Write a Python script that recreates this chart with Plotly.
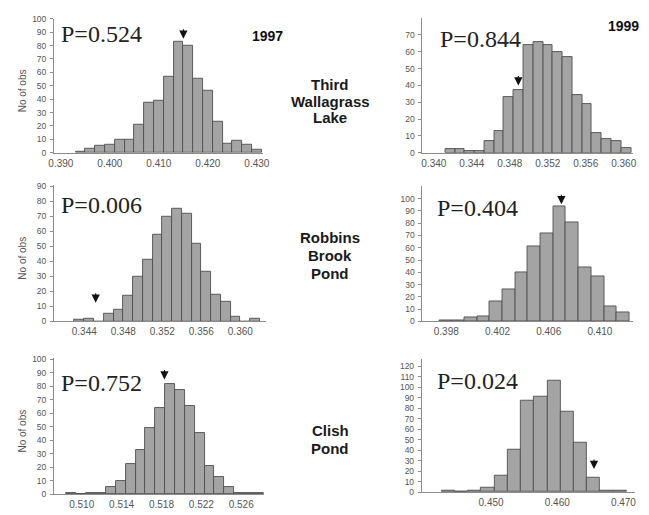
import numpy as np
import plotly.graph_objects as go

W, H = 649, 515

# ---------------- data ----------------
# 1997 Third Wallagrass Lake
twl97_counts = [1, 3, 5, 6, 10, 10, 21, 37, 39, 57, 83, 80, 55, 46, 23, 7, 9, 6, 2]
twl97_bin_start, twl97_bin_width = 0.393, 0.002
twl97_obs = 0.415
# 1999 Third Wallagrass Lake
twl99_counts = [2, 2, 1, 1, 7, 13, 33, 37, 64, 66, 64, 60, 57, 34, 29, 12, 8, 7, 3]
twl99_bin_start, twl99_bin_width = 0.3412, 0.00103
twl99_obs = 0.3489
# 1997 Robbins Brook Pond
rbp97_counts = [1, 2, 0, 5, 8, 17, 30, 41, 58, 70, 75, 72, 52, 33, 18, 13, 3, 0, 2]
rbp97_bin_start, rbp97_bin_width = 0.343, 0.001
rbp97_obs = 0.34517
# 1999 Robbins Brook Pond
rbp99_counts = [1, 1, 3, 4, 16, 26, 40, 61, 72, 94, 81, 44, 37, 12, 7]
rbp99_bin_start, rbp99_bin_width = 0.39745, 0.00099
rbp99_obs = 0.40699
# 1997 Clish Pond
cp97_counts = [1, 0, 1, 1, 5, 10, 22, 33, 49, 64, 82, 77, 65, 45, 21, 13, 5, 1, 1, 1]
cp97_bin_start, cp97_bin_width = 0.50847, 0.00099
cp97_obs = 0.5183
# 1999 Clish Pond
cp99_counts = [1, 0, 1, 4, 16, 40, 87, 91, 106, 77, 47, 14, 1, 1]
cp99_bin_start, cp99_bin_width = 0.4425, 0.002
cp99_obs = 0.46556

p_values = ["P=0.524", "P=0.844", "P=0.006", "P=0.404", "P=0.752", "P=0.024"]
years = ["1997", "1999"]
lakes = [["Third", "Wallagrass", "Lake"], ["Robbins", "Brook", "Pond"], ["Clish", "Pond"]]

x_ticks = [
    [0.390, 0.400, 0.410, 0.420, 0.430],
    [0.340, 0.344, 0.348, 0.352, 0.356, 0.360],
    [0.344, 0.348, 0.352, 0.356, 0.360],
    [0.398, 0.402, 0.406, 0.410],
    [0.510, 0.514, 0.518, 0.522, 0.526],
    [0.450, 0.460, 0.470],
]
y_ticks = [list(range(0, 101, 10)), list(range(0, 71, 10)), list(range(0, 91, 10)),
           list(range(0, 101, 10)), list(range(0, 101, 10)), list(range(0, 121, 10))]

# ---------------- layout geometry (pixels) ----------------
panels = [
    dict(counts=twl97_counts, start=twl97_bin_start, width=twl97_bin_width, obs=twl97_obs, arrow_y=85,
         xr=[0.3886, 0.4312], yr=[0, 100], px=[49, 262], py=[14, 150.7], ylab=True, plab=(54, 30)),
    dict(counts=twl99_counts, start=twl99_bin_start, width=twl99_bin_width, obs=twl99_obs, arrow_y=40,
         xr=[0.3388, 0.3610], yr=[0, 80], px=[425, 640], py=[13.3, 150.7], ylab=False, plab=(441, 35)),
    dict(counts=rbp97_counts, start=rbp97_bin_start, width=rbp97_bin_width, obs=rbp97_obs, arrow_y=12.5,
         xr=[0.3409, 0.3626], yr=[0, 91], px=[49, 265], py=[183.3, 322.7], ylab=True, plab=(54, 204)),
    dict(counts=rbp99_counts, start=rbp99_bin_start, width=rbp99_bin_width, obs=rbp99_obs, arrow_y=95.5,
         xr=[0.39614, 0.4126], yr=[0, 110], px=[425, 640], py=[185, 322.7], ylab=False, plab=(438, 207)),
    dict(counts=cp97_counts, start=cp97_bin_start, width=cp97_bin_width, obs=cp97_obs, arrow_y=85,
         xr=[0.50722, 0.52826], yr=[0, 101], px=[49, 263], py=[360, 498.7], ylab=True, plab=(54, 385)),
    dict(counts=cp99_counts, start=cp99_bin_start, width=cp99_bin_width, obs=cp99_obs, arrow_y=22,
         xr=[0.43953, 0.47173], yr=[0, 127], px=[424.3, 641.7], py=[360.7, 496.7], ylab=False, plab=(438, 383)),
]

def fx(px):
    return px / W

def fy(py):
    return 1 - py / H

fig = go.Figure()
annotations = []
layout = dict(
    width=W, height=H, margin=dict(l=0, r=0, t=0, b=0),
    paper_bgcolor="white", plot_bgcolor="white", showlegend=False,
    bargap=0,
)

tick_font_y = dict(family="Liberation Sans, Arial", size=8.5, color="#555555")
tick_font_x = dict(family="Liberation Sans, Arial", size=10, color="#555555")

for i, p in enumerate(panels):
    n = i + 1
    xa = "x" if n == 1 else f"x{n}"
    ya = "y" if n == 1 else f"y{n}"
    counts = p["counts"]
    centers = p["start"] + p["width"] * (np.arange(len(counts)) + 0.5)
    fig.add_trace(go.Bar(
        x=centers, y=counts, width=p["width"], xaxis=xa, yaxis=ya,
        marker=dict(color="#a4a4a4", line=dict(color="#4f4f4f", width=0.9)),
        hoverinfo="skip",
    ))
    layout["xaxis" if n == 1 else f"xaxis{n}"] = dict(
        domain=[fx(p["px"][0]), fx(p["px"][1])], range=p["xr"], anchor=ya,
        showgrid=False, zeroline=False, showline=True, linecolor="#8c8c8c", linewidth=1,
        ticks="", tickvals=x_ticks[i], ticktext=[f"{v:.3f}" for v in x_ticks[i]],
        tickfont=tick_font_x, ticklabelstandoff=1,
    )
    layout["yaxis" if n == 1 else f"yaxis{n}"] = dict(
        domain=[fy(p["py"][1]), fy(p["py"][0])], range=p["yr"], anchor=xa,
        showgrid=False, zeroline=False, showline=True, linecolor="#8c8c8c", linewidth=1,
        ticks="outside", ticklen=3, tickcolor="#8c8c8c", tickwidth=1,
        tickvals=y_ticks[i], tickfont=tick_font_y, ticklabelstandoff=2,
    )
    # observed value arrow
    annotations.append(dict(
        x=p["obs"], y=p["arrow_y"], xref=xa, yref=ya, text="", showarrow=True,
        ax=0, ay=-11, arrowhead=2, arrowsize=1.5, arrowwidth=1.1, arrowcolor="#111111",
    ))
    # P value
    annotations.append(dict(
        x=fx(p["plab"][0]), y=fy(p["plab"][1]), xref="paper", yref="paper",
        text=p_values[i], showarrow=False, xanchor="left", yanchor="middle",
        font=dict(family="Liberation Serif, Times New Roman", size=24, color="#222222"),
    ))
    if p["ylab"]:
        cy = (p["py"][0] + p["py"][1]) / 2 + 5
        annotations.append(dict(
            x=fx(17), y=fy(cy), xref="paper", yref="paper", text="No of obs",
            showarrow=False, textangle=-90, xanchor="center", yanchor="middle",
            font=dict(family="Liberation Sans, Arial", size=10, color="#555555"),
        ))

# year labels
annotations.append(dict(x=fx(267), y=fy(32), xref="paper", yref="paper", text=years[0],
                        showarrow=False, xanchor="center", yanchor="middle",
                        font=dict(family="Liberation Sans, Arial", size=14, color="#111111", weight="bold")))
annotations.append(dict(x=fx(630), y=fy(21), xref="paper", yref="paper", text=years[1],
                        showarrow=False, xanchor="center", yanchor="middle",
                        font=dict(family="Liberation Sans, Arial", size=14, color="#111111", weight="bold")))

# lake labels
lake_line_y = [[81, 98, 115], [237, 255.5, 274], [434, 452]]
for lines, ys in zip(lakes, lake_line_y):
    for txt, yy in zip(lines, ys):
        annotations.append(dict(x=fx(331), y=fy(yy), xref="paper", yref="paper", text=txt,
                                showarrow=False, xanchor="center", yanchor="middle",
                                font=dict(family="Liberation Sans, Arial", size=15, color="#1a1a1a", weight="bold")))

layout["annotations"] = annotations
fig.update_layout(**layout)
fig.write_html("out.html")
